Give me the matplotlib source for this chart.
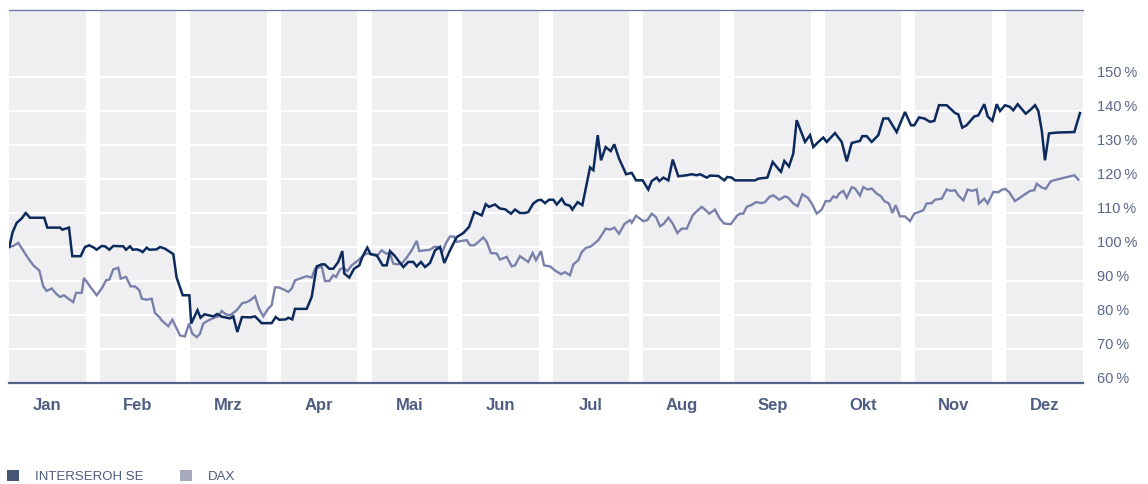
import matplotlib
matplotlib.use("Agg")
import matplotlib.pyplot as plt
import matplotlib.transforms as mtransforms
from matplotlib.patches import Patch

plt.rcParams['font.family'] = ['Liberation Sans Narrow', 'Liberation Sans', 'DejaVu Sans']

months = ['Jan', 'Feb', 'Mrz', 'Apr', 'Mai', 'Jun', 'Jul', 'Aug', 'Sep', 'Okt', 'Nov', 'Dez']
y_ticks = [60, 70, 80, 90, 100, 110, 120, 130, 140, 150]

# position in months (0 = start of Jan, 12 = end of Dez), value in % (start = 100)
interseroh_x = [0.003, 0.041, 0.086, 0.142, 0.187, 0.235, 0.394, 0.428, 0.570, 0.596, 0.670, 0.707,
                0.801, 0.849, 0.897, 0.942, 0.980, 1.036, 1.073, 1.121, 1.165, 1.277, 1.307, 1.352,
                1.382, 1.427, 1.464, 1.494, 1.539, 1.568, 1.650, 1.687, 1.743, 1.836, 1.872, 1.941,
                2.015, 2.036, 2.106, 2.140, 2.184, 2.283, 2.327, 2.377, 2.469, 2.506, 2.551, 2.603,
                2.693, 2.749, 2.823, 2.935, 2.980, 3.020, 3.092, 3.121, 3.165, 3.196, 3.326, 3.382,
                3.438, 3.494, 3.527, 3.579, 3.623, 3.679, 3.724, 3.746, 3.802, 3.855, 3.914, 3.952,
                4.003, 4.041, 4.108, 4.175, 4.220, 4.257, 4.313, 4.361, 4.406, 4.461, 4.517, 4.555,
                4.603, 4.648, 4.704, 4.760, 4.816, 4.864, 4.927, 5.002, 5.076, 5.140, 5.199, 5.282,
                5.327, 5.363, 5.430, 5.486, 5.542, 5.609, 5.654, 5.709, 5.765, 5.802, 5.858, 5.907,
                5.944, 5.989, 6.034, 6.082, 6.120, 6.176, 6.212, 6.268, 6.294, 6.354, 6.406, 6.492,
                6.529, 6.578, 6.615, 6.667, 6.723, 6.763, 6.816, 6.875, 6.894, 6.958, 7.006, 7.080,
                7.143, 7.181, 7.237, 7.266, 7.311, 7.367, 7.416, 7.478, 7.572, 7.628, 7.684, 7.721,
                7.796, 7.832, 7.925, 7.992, 8.026, 8.075, 8.112, 8.335, 8.372, 8.473, 8.533, 8.607,
                8.626, 8.663, 8.715, 8.763, 8.801, 8.894, 8.950, 8.987, 9.043, 9.098, 9.136, 9.229,
                9.304, 9.360, 9.416, 9.508, 9.534, 9.583, 9.639, 9.713, 9.769, 9.825, 9.918, 10.011,
                10.078, 10.115, 10.168, 10.227, 10.291, 10.339, 10.391, 10.477, 10.570, 10.607,
                10.651, 10.700, 10.785, 10.830, 10.897, 10.935, 10.987, 11.036, 11.073, 11.129,
                11.184, 11.221, 11.270, 11.360, 11.419, 11.464, 11.501, 11.539, 11.575, 11.620,
                11.687, 11.762, 11.903, 11.966]
interseroh_y = [100.0, 104.4, 107.1, 108.4, 110.0, 108.6, 108.6, 105.7, 105.7, 105.1, 105.7, 97.3,
                97.3, 100.0, 100.5, 99.9, 99.2, 100.3, 100.2, 99.2, 100.3, 100.2, 99.2, 100.2,
                99.2, 99.3, 99.0, 98.5, 99.8, 99.2, 99.3, 100.0, 99.5, 97.9, 91.1, 85.8,
                85.8, 77.5, 81.4, 79.2, 80.2, 79.6, 80.3, 79.5, 79.0, 79.6, 75.0, 79.4,
                79.3, 79.6, 77.6, 77.6, 79.4, 78.6, 78.7, 79.2, 78.7, 81.8, 81.8, 85.3,
                94.3, 94.9, 94.9, 93.6, 93.6, 95.6, 98.8, 92.2, 91.0, 93.6, 94.6, 97.3,
                99.8, 97.9, 97.6, 94.6, 94.6, 98.8, 97.3, 95.6, 94.1, 95.6, 95.6, 94.3,
                95.6, 94.1, 95.3, 99.0, 100.0, 95.3, 99.0, 102.9, 104.1, 105.9, 110.3, 109.3,
                112.6, 111.8, 112.5, 111.3, 111.1, 109.8, 111.0, 110.0, 110.0, 110.3, 112.8, 113.7,
                113.9, 112.9, 113.9, 113.9, 112.5, 114.2, 112.6, 112.1, 111.0, 113.2, 112.3, 123.4,
                122.6, 132.9, 125.5, 129.4, 128.2, 130.2, 126.0, 122.6, 121.4, 121.8, 119.6, 119.6,
                116.9, 119.4, 120.4, 119.4, 120.4, 119.6, 125.7, 120.8, 121.1, 121.4, 121.1, 121.4,
                120.4, 121.0, 120.9, 119.6, 120.6, 120.4, 119.6, 119.6, 120.1, 120.4, 125.0, 122.6,
                122.1, 125.3, 123.7, 127.5, 137.3, 130.9, 132.9, 129.4, 130.9, 132.2, 130.9, 133.5,
                130.9, 125.2, 130.6, 131.2, 132.6, 132.6, 130.9, 132.9, 137.8, 137.8, 133.8, 139.7,
                135.8, 135.8, 138.1, 137.8, 136.8, 137.1, 141.7, 141.7, 139.4, 139.0,
                135.1, 135.8, 138.4, 138.7, 142.0, 138.4, 137.1, 142.0, 140.0, 141.7,
                141.2, 140.2, 142.0, 139.2, 140.5, 141.7, 140.0, 134.3, 125.5, 133.4,
                133.6, 133.7, 133.8, 139.4]

dax_x = [0.003, 0.048, 0.104, 0.216, 0.272, 0.339, 0.383, 0.421, 0.477, 0.525, 0.570, 0.615,
         0.663, 0.718, 0.749, 0.812, 0.838, 0.905, 0.980, 1.036, 1.084, 1.121, 1.165, 1.221,
         1.248, 1.307, 1.360, 1.408, 1.456, 1.483, 1.539, 1.594, 1.631, 1.680, 1.706, 1.780,
         1.825, 1.911, 1.966, 2.011, 2.048, 2.097, 2.134, 2.171, 2.227, 2.283, 2.338, 2.377,
         2.421, 2.469, 2.544, 2.607, 2.656, 2.693, 2.749, 2.793, 2.841, 2.897, 2.935, 2.972,
         3.017, 3.084, 3.121, 3.159, 3.196, 3.251, 3.326, 3.382, 3.419, 3.475, 3.494, 3.531,
         3.579, 3.623, 3.654, 3.698, 3.735, 3.780, 3.829, 3.855, 3.903, 3.952, 3.997, 4.041,
         4.108, 4.164, 4.212, 4.257, 4.294, 4.339, 4.388, 4.444, 4.499, 4.555, 4.584, 4.648,
         4.704, 4.749, 4.797, 4.846, 4.883, 4.927, 4.972, 5.002, 5.058, 5.114, 5.151, 5.199,
         5.244, 5.300, 5.338, 5.385, 5.449, 5.486, 5.561, 5.617, 5.654, 5.709, 5.765, 5.802,
         5.851, 5.888, 5.944, 5.978, 6.045, 6.101, 6.168, 6.212, 6.268, 6.306, 6.361, 6.399,
         6.444, 6.503, 6.585, 6.667, 6.715, 6.763, 6.816, 6.875, 6.883, 6.939, 6.958, 7.006,
         7.087, 7.132, 7.181, 7.229, 7.274, 7.311, 7.367, 7.416, 7.467, 7.516, 7.572, 7.639,
         7.676, 7.740, 7.777, 7.825, 7.888, 7.936, 7.989, 8.064, 8.138, 8.168, 8.204, 8.243,
         8.299, 8.346, 8.410, 8.447, 8.495, 8.540, 8.607, 8.670, 8.707, 8.763, 8.812, 8.864,
         8.924, 8.969, 9.025, 9.080, 9.125, 9.173, 9.210, 9.248, 9.274, 9.322, 9.360, 9.416,
         9.453, 9.508, 9.545, 9.595, 9.639, 9.695, 9.743, 9.780, 9.832, 9.870, 9.907, 9.955,
         10.011, 10.067, 10.115, 10.168, 10.216, 10.253, 10.309, 10.346, 10.421, 10.477,
         10.525, 10.570, 10.607, 10.663, 10.712, 10.757, 10.812, 10.838, 10.897, 10.935,
         10.998, 11.054, 11.084, 11.129, 11.173, 11.240, 11.352, 11.408, 11.456, 11.483,
         11.539, 11.583, 11.642, 11.903, 11.948]
dax_y = [100.0, 100.3, 101.2, 96.6, 94.6, 93.1, 88.4, 87.1, 87.8, 86.3, 85.3, 85.8,
         84.8, 83.8, 86.5, 86.5, 90.9, 88.4, 85.8, 87.8, 90.2, 90.4, 93.4, 93.9,
         90.7, 91.2, 88.4, 88.4, 87.3, 84.8, 84.5, 84.8, 80.6, 79.4, 78.4, 76.7,
         78.6, 74.0, 73.7, 77.5, 74.5, 73.5, 74.5, 77.5, 78.4, 79.1, 79.6, 81.2,
         80.2, 79.9, 81.4, 83.5, 83.8, 84.3, 85.5, 81.9, 79.6, 81.9, 82.9, 88.1,
         88.1, 87.3, 86.8, 87.8, 90.2, 90.7, 91.4, 91.0, 93.6, 94.1, 94.3, 90.0,
         90.0, 91.7, 91.2, 93.4, 93.9, 92.9, 94.6, 95.1, 96.1, 97.3, 98.1, 97.9,
         97.3, 99.0, 98.1, 98.1, 95.1, 94.9, 95.1, 96.9, 99.0, 101.8, 98.8, 99.0,
         99.2, 100.0, 100.0, 98.8, 101.2, 103.1, 103.1, 101.5, 101.8, 102.0, 100.5, 100.5,
         101.5, 102.8, 101.5, 98.2, 98.1, 96.3, 97.1, 94.3, 94.6, 97.3, 96.3, 95.6,
         98.2, 96.1, 98.8, 94.6, 94.3, 93.1, 92.0, 92.6, 91.7, 94.9, 96.1, 98.5,
         99.7, 100.2, 102.0, 105.4, 105.1, 105.7, 103.9, 106.7, 106.9, 107.9, 107.1, 109.2,
         107.6, 107.9, 109.8, 108.8, 106.1, 106.7, 108.6, 106.9, 104.1, 105.4, 105.4, 109.3,
         110.3, 111.8, 111.0, 109.8, 111.0, 108.6, 106.9, 106.7, 109.3, 109.8, 109.8, 111.8,
         112.4, 113.2, 112.9, 113.2, 114.7, 115.2, 113.9, 114.9, 114.5, 112.8, 112.0, 115.5,
         114.5, 112.8, 109.8, 111.0, 113.5, 113.5, 114.9, 114.5, 115.7, 116.5, 114.5, 117.6,
         117.2, 115.1, 117.6, 116.9, 117.2, 115.7, 114.9, 113.5, 112.8, 110.0, 112.3, 109.0,
         109.0, 107.6, 109.8, 110.3, 110.8, 112.8, 112.9, 113.9, 114.2, 116.9,
         116.5, 116.7, 115.2, 113.7, 116.9, 116.5, 116.9, 112.8, 114.2, 112.8,
         116.2, 116.1, 116.7, 117.1, 116.2, 113.5, 115.5, 116.5, 116.7, 118.6,
         117.5, 117.1, 119.4, 121.1, 119.8]

text_col = '#4f5d82'
band_col = '#efeff2'

fig = plt.figure(figsize=(11.48, 4.84), dpi=100)
ax = fig.add_axes([9 / 1148, 1 - 383 / 484, 1074 / 1148, 373 / 484])
ax.set_xlim(0, 12)
ax.set_ylim(60, 169.7)

# month bands with white gaps between them
step = 1.0127
band_w = 0.855
for i in range(12):
    ax.axvspan(i * step, i * step + band_w, color=band_col, lw=0, zorder=0)
for v in y_ticks[1:]:
    ax.axhline(v, color='white', lw=1.6, zorder=1)

ax.plot(dax_x, dax_y, color='#7981ab', lw=1.7, zorder=3, solid_joinstyle='miter')
ax.plot(interseroh_x, interseroh_y, color='#0c2a5c', lw=1.8, zorder=4, solid_joinstyle='miter')

for s in ['left', 'right']:
    ax.spines[s].set_visible(False)
ax.spines['top'].set_color('#66729a')
ax.spines['top'].set_linewidth(0.9)
ax.spines['bottom'].set_color('#56648c')
ax.spines['bottom'].set_linewidth(1.6)

ax.set_xticks([i * step + band_w / 2 for i in range(12)])
ax.set_xticklabels(months, fontsize=12, fontweight='bold', color=text_col)
ax.tick_params(axis='x', length=0, pad=11)
ax.set_yticks([])

# percentage labels to the right, sitting slightly above their grid lines
offset = mtransforms.ScaledTranslation(14 / 100, 4 / 100, fig.dpi_scale_trans)
trans = mtransforms.blended_transform_factory(ax.transAxes, ax.transData) + offset
for v in y_ticks:
    ax.text(1.0, v, f'{v}\u2009%', transform=trans, ha='left', va='center',
            fontsize=10.5, color='#5a678a')

handles = [Patch(facecolor='#485676', edgecolor='none', label='INTERSEROH SE'),
           Patch(facecolor='#a6aabd', edgecolor='none', label='DAX')]
fig.legend(handles=handles, loc='lower left', bbox_to_anchor=(7 / 1148, 1 / 484), ncol=2,
           frameon=False, fontsize=9.5, handlelength=0.9, handleheight=0.9,
           handletextpad=1.2, columnspacing=2.8, borderpad=0, borderaxespad=0,
           labelcolor='#4f5c7c')

fig.savefig('out.png', dpi=100)
